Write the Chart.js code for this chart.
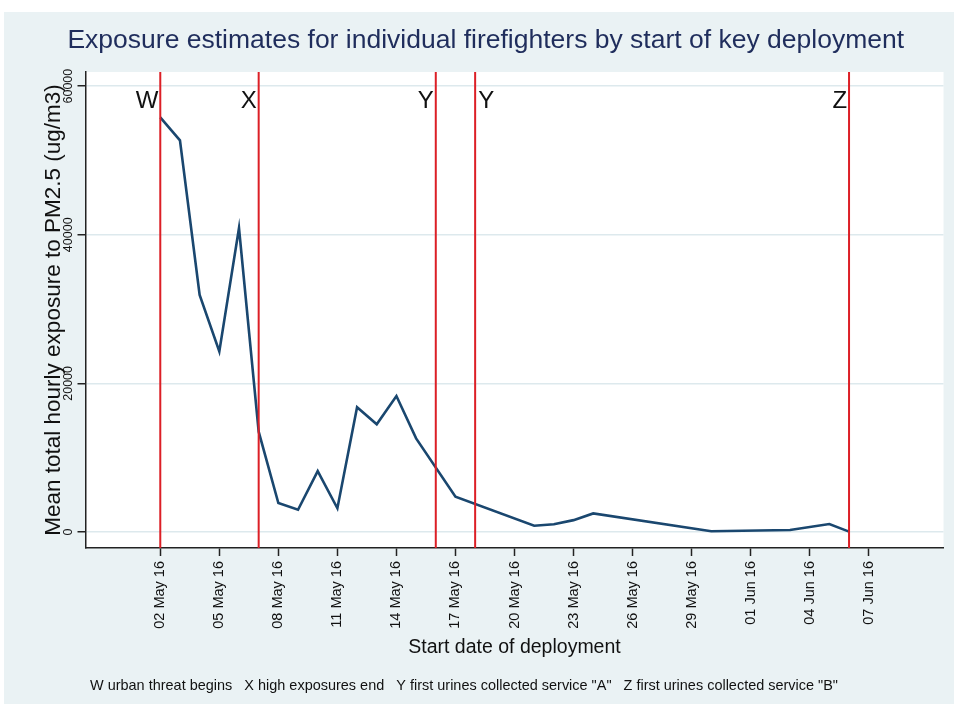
<!DOCTYPE html>
<html>
<head>
<meta charset="utf-8">
<script src="https://cdn.jsdelivr.net/npm/chart.js@4"></script>
<style>
  html, body { margin: 0; padding: 0; background: #fff; }
</style>
</head>
<body>
<canvas id="chart" width="954" height="704"></canvas>
<script>
// deployment start dates and mean exposure
const startDates = ["2016-05-02", "2016-05-03", "2016-05-04", "2016-05-05", "2016-05-06", "2016-05-07",
  "2016-05-08", "2016-05-09", "2016-05-10", "2016-05-11", "2016-05-12", "2016-05-13", "2016-05-14",
  "2016-05-15", "2016-05-17", "2016-05-21", "2016-05-22", "2016-05-23", "2016-05-24", "2016-05-30",
  "2016-06-03", "2016-06-05", "2016-06-06"];
const exposure = [55800, 52700, 31900, 24300, 40900, 13500, 3900, 3000, 8200, 3200, 16800, 14500,
  18300, 12600, 4750, 850, 1050, 1600, 2500, 100, 270, 1080, 50];

// key events (vertical red lines)
const markerDates = ["2016-05-02", "2016-05-07", "2016-05-16", "2016-05-18", "2016-06-06"];
const markerLetters = ["W", "X", "Y", "Y", "Z"];

// axis ticks
const tickDates = ["2016-05-02", "2016-05-05", "2016-05-08", "2016-05-11", "2016-05-14", "2016-05-17",
  "2016-05-20", "2016-05-23", "2016-05-26", "2016-05-29", "2016-06-01", "2016-06-04", "2016-06-07"];
const tickLabels = ["02 May 16", "05 May 16", "08 May 16", "11 May 16", "14 May 16", "17 May 16",
  "20 May 16", "23 May 16", "26 May 16", "29 May 16", "01 Jun 16", "04 Jun 16", "07 Jun 16"];
const yTicks = [0, 20000, 40000, 60000];

const footNote = 'W urban threat begins   X high exposures end   Y first urines collected service "A"   Z first urines collected service "B"';

// which side of its line each letter sits on
const markerLabelSide = ["left", "left", "left", "right", "left"];

const FONT = '"Liberation Sans", Arial, sans-serif';

const day = (s) => {
  const [y, m, d] = s.split("-").map(Number);
  return Date.UTC(y, m - 1, d) / 86400000;
};

const xMin = day("2016-04-28") + 0.2;
const xMax = day("2016-06-10") + 0.8;
const yMin = -2150;
const yMax = 61900;

const tickDays = tickDates.map(day);

// y tick labels are rotated; centre them using their measured width
const yTickFont = { family: FONT, size: 12.5 };
const mctx = document.createElement("canvas").getContext("2d");
mctx.font = `${yTickFont.size}px ${yTickFont.family}`;
const yLabelHalf = Math.max(...yTicks.map((v) => mctx.measureText(String(v)).width)) / 2;

const decor = {
  id: "decor",
  beforeDraw(chart) {
    const { ctx, width, height, chartArea: a } = chart;
    ctx.save();
    ctx.fillStyle = "#fff";
    ctx.fillRect(0, 0, width, height);
    ctx.fillStyle = "#eaf2f4";
    ctx.fillRect(4, 12, width - 4, height - 12);
    ctx.fillStyle = "#fff";
    ctx.fillRect(a.left, a.top, a.right - a.left, a.bottom - a.top);
    ctx.restore();
  },
  afterDatasetsDraw(chart) {
    const { ctx, chartArea: a, scales: { x } } = chart;
    ctx.save();
    ctx.font = `24px ${FONT}`;
    ctx.fillStyle = "#111";
    ctx.textBaseline = "alphabetic";
    markerDates.forEach((d, i) => {
      const px = x.getPixelForValue(day(d));
      const right = markerLabelSide[i] === "right";
      ctx.textAlign = right ? "left" : "right";
      ctx.fillText(markerLetters[i], px + (right ? 3 : -2), a.top + 36);
    });
    // footnote is set in a condensed face in the original; squeeze it to the same span
    ctx.font = `15px ${FONT}`;
    ctx.textAlign = "left";
    const w = ctx.measureText(footNote).width;
    ctx.translate(90, 690);
    ctx.scale(748 / w, 1);
    ctx.fillText(footNote, 0, 0);
    ctx.restore();
  },
};

const markerSets = markerDates.map((d) => ({
  data: [{ x: day(d), y: yMin }, { x: day(d), y: yMax }],
  borderColor: "#dc1f26",
  borderWidth: 2,
  pointRadius: 0,
  order: 0,
}));

new Chart(document.getElementById("chart"), {
  type: "line",
  data: {
    datasets: [
      {
        label: "Exposure",
        data: startDates.map((d, i) => ({ x: day(d), y: exposure[i] })),
        borderColor: "#1a476f",
        borderWidth: 2.6,
        pointRadius: 0,
        tension: 0,
        order: 1,
      },
      ...markerSets,
    ],
  },
  options: {
    responsive: false,
    animation: false,
    layout: { padding: { left: 28, right: 10.5, top: 0, bottom: 32 } },
    plugins: {
      legend: { display: false },
      tooltip: { enabled: false },
      title: {
        display: true,
        text: "Exposure estimates for individual firefighters by start of key deployment",
        color: "#1f2d5c",
        font: { family: FONT, size: 26.5, weight: "normal" },
        padding: { top: 25, bottom: 15.2 },
      },
    },
    scales: {
      x: {
        type: "linear",
        min: xMin,
        max: xMax,
        afterBuildTicks: (s) => { s.ticks = tickDays.map((v) => ({ value: v })); },
        afterFit: (s) => { s.height = 704 - 32 - 548; },
        grid: { display: true, drawOnChartArea: false, tickLength: 8, tickColor: "#222", tickWidth: 1.5 },
        border: { display: true, color: "#222", width: 1.5 },
        ticks: {
          autoSkip: false,
          minRotation: 90,
          maxRotation: 90,
          padding: 5,
          color: "#111",
          font: { family: FONT, size: 14.5 },
          callback: (v, i) => tickLabels[i],
        },
        title: {
          display: true,
          text: "Start date of deployment",
          color: "#111",
          font: { family: FONT, size: 19.5 },
          padding: { top: 0, bottom: 13 },
        },
      },
      y: {
        min: yMin,
        max: yMax,
        afterBuildTicks: (s) => { s.ticks = yTicks.map((v) => ({ value: v })); },
        afterFit: (s) => { s.width = 85.5 - 28; s.paddingTop = 0; s.paddingBottom = 0; },
        grid: { color: "#dde9ed", lineWidth: 1.5, tickLength: 8, tickColor: "#222", tickWidth: 1.5 },
        border: { color: "#222", width: 1.5 },
        ticks: {
          minRotation: 90,
          maxRotation: 90,
          crossAlign: "center",
          padding: 9 - yLabelHalf,
          color: "#111",
          font: yTickFont,
          callback: (v) => String(v),
        },
        title: {
          display: true,
          text: "Mean total hourly exposure to PM2.5 (ug/m3)",
          color: "#111",
          font: { family: FONT, size: 22.5 },
          padding: { top: 12.5, bottom: 0 },
        },
      },
    },
  },
  plugins: [decor],
});
</script>
</body>
</html>
